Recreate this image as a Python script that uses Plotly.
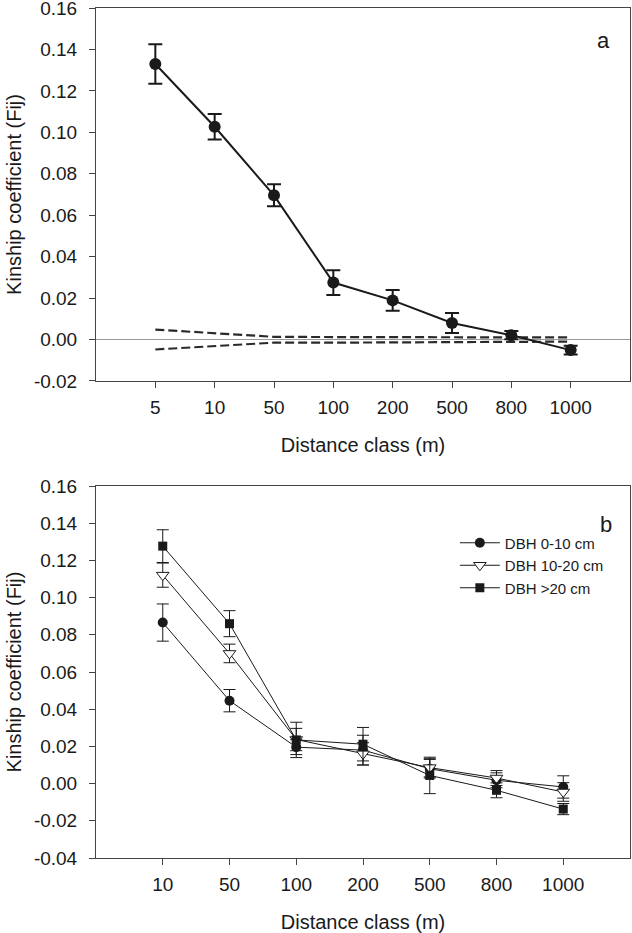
import plotly.graph_objects as go
from plotly.subplots import make_subplots

# Panel a data
dist_a = ["5", "10", "50", "100", "200", "500", "800", "1000"]
fij_a = [0.133, 0.1027, 0.0696, 0.0275, 0.0189, 0.0080, 0.0021, -0.0051]
err_a = [0.0095, 0.0062, 0.0053, 0.0060, 0.0050, 0.0048, 0.0020, 0.0021]
upper_ci = [0.0048, 0.0030, 0.0013, 0.0012, 0.0011, 0.0010, 0.0010, 0.0010]
lower_ci = [-0.0048, -0.0030, -0.0015, -0.0015, -0.0013, -0.0012, -0.0010, -0.0010]

# Panel b data
dist_b = ["10", "50", "100", "200", "500", "800", "1000"]
dbh_small = [0.0866, 0.0446, 0.0196, 0.0180, 0.0080, 0.0018, -0.0018]
dbh_small_err = [0.0100, 0.0060, 0.0040, 0.0080, 0.0050, 0.0040, 0.0060]
dbh_mid = [0.1121, 0.0700, 0.0237, 0.0160, 0.0086, 0.0030, -0.0045]
dbh_mid_err = [0.0065, 0.0050, 0.0060, 0.0060, 0.0050, 0.0040, 0.0050]
dbh_large = [0.1277, 0.0860, 0.0235, 0.0212, 0.0044, -0.0036, -0.0137]
dbh_large_err = [0.0088, 0.0070, 0.0095, 0.0090, 0.0098, 0.0040, 0.0030]

yticks_a = [-0.02, 0.00, 0.02, 0.04, 0.06, 0.08, 0.10, 0.12, 0.14, 0.16]
yticks_b = [-0.04, -0.02, 0.00, 0.02, 0.04, 0.06, 0.08, 0.10, 0.12, 0.14, 0.16]

FONT = "Liberation Sans, Arial, sans-serif"
INK = "#1a1a1a"
AXC = "#444444"

fig = make_subplots(rows=2, cols=1, vertical_spacing=0.0)

# Panel a
fig.add_trace(go.Scatter(x=dist_a, y=upper_ci, mode="lines",
                         line=dict(color="#2a2a2a", width=2.2, dash="9px,4px"),
                         showlegend=False), row=1, col=1)
fig.add_trace(go.Scatter(x=dist_a, y=lower_ci, mode="lines",
                         line=dict(color="#2a2a2a", width=2.2, dash="9px,4px"),
                         showlegend=False), row=1, col=1)
fig.add_trace(go.Scatter(x=dist_a, y=fij_a, mode="lines+markers",
                         line=dict(color=INK, width=2),
                         marker=dict(symbol="circle", size=12, color=INK),
                         error_y=dict(type="data", array=err_a, visible=True,
                                      color=INK, thickness=2, width=7),
                         showlegend=False), row=1, col=1)

# Panel b
series = [
    ("DBH 0-10 cm", dbh_small, dbh_small_err,
     dict(symbol="circle", size=10, color=INK)),
    ("DBH 10-20 cm", dbh_mid, dbh_mid_err,
     dict(symbol="triangle-down", size=11, color="white", line=dict(color=INK, width=1))),
    ("DBH >20 cm", dbh_large, dbh_large_err,
     dict(symbol="square", size=9, color=INK)),
]
for name, vals, errs, mk in series:
    fig.add_trace(go.Scatter(x=dist_b, y=vals, mode="lines+markers", name=name,
                             line=dict(color=INK, width=1),
                             marker=mk,
                             error_y=dict(type="data", array=errs, visible=True,
                                          color=INK, thickness=1, width=6)),
                  row=2, col=1)

axis_common = dict(showline=True, linecolor=AXC, linewidth=1, mirror=True,
                   ticks="outside", ticklen=6, tickcolor=AXC, showgrid=False,
                   automargin=False, ticklabeloverflow="allow",
                   tickfont=dict(family=FONT, size=19, color=INK))

fig.update_xaxes(**axis_common, ticklabelstandoff=3)
fig.update_yaxes(**axis_common, ticklabelstandoff=8)

title_font = dict(family=FONT, size=20, color=INK)

fig.update_xaxes(type="category", categoryorder="array", categoryarray=dist_a,
                 range=[-1, 8], domain=[0, 1],
                 title=dict(text="Distance class (m)", font=title_font, standoff=21),
                 row=1, col=1)
fig.update_xaxes(type="category", categoryorder="array", categoryarray=dist_b,
                 range=[-1, 7], domain=[0, 1],
                 title=dict(text="Distance class (m)", font=title_font, standoff=22),
                 row=2, col=1)

fig.update_yaxes(range=[-0.02, 0.16001], tickvals=yticks_a,
                 ticktext=[f"{v:.2f}" for v in yticks_a],
                 zeroline=True, zerolinecolor="#999999", zerolinewidth=1,
                 domain=[0.5612, 1.0],
                 title=dict(text="Kinship coefficient (Fij)", font=title_font, standoff=6),
                 row=1, col=1)
fig.update_yaxes(range=[-0.04, 0.16001], tickvals=yticks_b,
                 ticktext=[f"{v:.2f}" for v in yticks_b],
                 zeroline=False, domain=[0, 0.4376],
                 title=dict(text="Kinship coefficient (Fij)", font=title_font, standoff=6),
                 row=2, col=1)

fig.add_annotation(text="a", x=0.951, y=0.962, xref="paper", yref="paper",
                   xanchor="center", yanchor="middle",
                   showarrow=False, font=dict(family=FONT, size=22, color=INK))
fig.add_annotation(text="b", x=0.955, y=0.392, xref="paper", yref="paper",
                   xanchor="center", yanchor="middle",
                   showarrow=False, font=dict(family=FONT, size=22, color=INK))

fig.update_layout(
    width=632, height=933,
    margin=dict(l=96, r=2, t=8, b=75),
    paper_bgcolor="white", plot_bgcolor="white",
    font=dict(family=FONT, color=INK),
    legend=dict(x=0.672, y=0.39, xanchor="left", yanchor="top",
                bgcolor="rgba(0,0,0,0)", font=dict(family=FONT, size=15, color=INK),
                tracegroupgap=0, itemwidth=40),
)

fig.write_html("out.html", config={"displayModeBar": False},
               post_script="document.body.style.margin='0px';")
